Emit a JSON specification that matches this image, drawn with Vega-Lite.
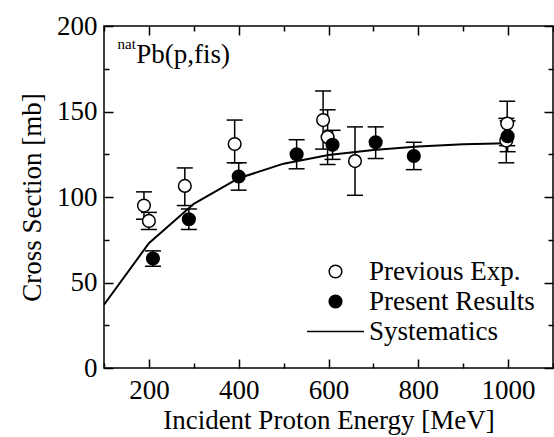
{
  "$schema": "https://vega.github.io/schema/vega-lite/v6.json",
  "autosize": {"type": "none"},
  "padding": {"left": 104, "top": 26, "right": 1, "bottom": 69},
  "width": 449,
  "height": 342,
  "config": {
    "view": {"stroke": "black", "strokeWidth": 1.5},
    "font": "Liberation Serif",
    "axis": {"labelFont": "Liberation Serif", "titleFont": "Liberation Serif", "labelColor": "black", "titleColor": "black", "titleFontWeight": "normal", "grid": false, "domain": false, "format": "d"},
    "legend": {"labelFont": "Liberation Serif"}
  },
  "datasets": {
    "pts": [
      {"series": "Previous Exp.", "energy": 189, "cs": 95, "lo": 87, "hi": 103},
      {"series": "Previous Exp.", "energy": 200, "cs": 86, "lo": 81, "hi": 91},
      {"series": "Previous Exp.", "energy": 280, "cs": 106.5, "lo": 95, "hi": 117},
      {"series": "Previous Exp.", "energy": 391, "cs": 131, "lo": 120, "hi": 145},
      {"series": "Previous Exp.", "energy": 588, "cs": 145, "lo": 128, "hi": 162},
      {"series": "Previous Exp.", "energy": 598, "cs": 135, "lo": 119, "hi": 151},
      {"series": "Previous Exp.", "energy": 659, "cs": 121, "lo": 101, "hi": 141},
      {"series": "Previous Exp.", "energy": 998, "cs": 143, "lo": 130, "hi": 156},
      {"series": "Previous Exp.", "energy": 996, "cs": 133, "lo": 120, "hi": 146},
      {"series": "Present Results", "energy": 209, "cs": 64, "lo": 59.5, "hi": 68.5},
      {"series": "Present Results", "energy": 289, "cs": 87, "lo": 81, "hi": 93},
      {"series": "Present Results", "energy": 400, "cs": 112, "lo": 104, "hi": 120},
      {"series": "Present Results", "energy": 529, "cs": 125, "lo": 116.5, "hi": 133.5},
      {"series": "Present Results", "energy": 609, "cs": 130.5, "lo": 122, "hi": 139},
      {"series": "Present Results", "energy": 705, "cs": 132, "lo": 122.5, "hi": 141},
      {"series": "Present Results", "energy": 790, "cs": 124, "lo": 116, "hi": 132},
      {"series": "Present Results", "energy": 999, "cs": 135.5, "lo": 126.5, "hi": 144.5}
    ],
    "sys": [
      {"energy": 100, "cs": 37},
      {"energy": 200, "cs": 73},
      {"energy": 300, "cs": 96},
      {"energy": 400, "cs": 111},
      {"energy": 500, "cs": 119.5},
      {"energy": 600, "cs": 124.5},
      {"energy": 700, "cs": 127.5},
      {"energy": 800, "cs": 129.5},
      {"energy": 900, "cs": 130.8},
      {"energy": 1000, "cs": 131.5}
    ],
    "nat": [{"energy": 130, "cs": 186.5, "text": "nat"}],
    "pb": [{"energy": 172, "cs": 178.4, "text": "Pb(p,fis)"}]
  },
  "resolve": {"axis": {"x": "independent", "y": "independent"}},
  "layer": [
    {
      "data": {"name": "sys"},
      "mark": {"type": "line", "color": "black", "strokeWidth": 2},
      "encoding": {
        "x": {"field": "energy", "type": "quantitative", "scale": {"domain": [100, 1100], "nice": false, "zero": false},
          "axis": {"orient": "bottom", "values": [200, 400, 600, 800, 1000], "ticks": false, "labelFontSize": 27, "labelPadding": 9, "title": "Incident Proton Energy [MeV]", "titleFontSize": 27, "titlePadding": 4}},
        "y": {"field": "cs", "type": "quantitative", "scale": {"domain": [0, 200], "nice": false},
          "axis": {"orient": "left", "values": [0, 50, 100, 150, 200], "ticks": false, "labelFontSize": 27, "labelPadding": 7, "title": "Cross Section [mb]", "titleFontSize": 27, "titlePadding": 10}}
      }
    },
    {
      "data": {"name": "pts"},
      "mark": {"type": "rule", "color": "black", "strokeWidth": 1.5},
      "encoding": {
        "x": {"field": "energy", "type": "quantitative",
          "axis": {"orient": "bottom", "values": [100, 200, 300, 400, 500, 600, 700, 800, 900, 1000, 1100], "labels": false, "title": null, "tickColor": "black", "tickWidth": 1.5,
            "tickSize": {"condition": {"test": "datum.value % 200 === 0", "value": -9}, "value": -5}}},
        "y": {"field": "lo", "type": "quantitative",
          "axis": {"orient": "left", "values": [0, 25, 50, 75, 100, 125, 150, 175, 200], "labels": false, "title": null, "tickColor": "black", "tickWidth": 1.5,
            "tickSize": {"condition": {"test": "datum.value % 50 === 0", "value": -9}, "value": -5}}},
        "y2": {"field": "hi"}
      }
    },
    {
      "data": {"name": "pts"},
      "mark": {"type": "tick", "orient": "horizontal", "color": "black", "thickness": 1.5, "size": 16, "opacity": 1},
      "encoding": {
        "x": {"field": "energy", "type": "quantitative",
          "axis": {"orient": "top", "values": [100, 200, 300, 400, 500, 600, 700, 800, 900, 1000, 1100], "labels": false, "title": null, "tickColor": "black", "tickWidth": 1.5,
            "tickSize": {"condition": {"test": "datum.value % 200 === 0", "value": -9}, "value": -5}}},
        "y": {"field": "lo", "type": "quantitative",
          "axis": {"orient": "right", "values": [0, 25, 50, 75, 100, 125, 150, 175, 200], "labels": false, "title": null, "tickColor": "black", "tickWidth": 1.5,
            "tickSize": {"condition": {"test": "datum.value % 50 === 0", "value": -9}, "value": -5}}}
      }
    },
    {
      "data": {"name": "pts"},
      "mark": {"type": "tick", "orient": "horizontal", "color": "black", "thickness": 1.5, "size": 16, "opacity": 1},
      "encoding": {
        "x": {"field": "energy", "type": "quantitative", "axis": null},
        "y": {"field": "hi", "type": "quantitative", "axis": null}
      }
    },
    {
      "data": {"name": "pts"},
      "mark": {"type": "point", "filled": true, "stroke": "black", "strokeWidth": 1.5, "size": 160, "opacity": 1},
      "encoding": {
        "x": {"field": "energy", "type": "quantitative", "axis": null},
        "y": {"field": "cs", "type": "quantitative", "axis": null},
        "shape": {"field": "series", "type": "nominal",
          "scale": {"domain": ["Previous Exp.", "Present Results", "Systematics"], "range": ["circle", "circle", "M-4.5,0L4.5,0"]},
          "legend": {"title": null, "orient": "none", "legendX": 218, "legendY": 232, "labelFontSize": 27, "labelColor": "black", "labelLimit": 0, "symbolSize": 160, "symbolOpacity": 1, "rowPadding": 2, "labelOffset": 20,
            "encode": {"symbols": {"update": {"stroke": {"value": "black"}, "strokeWidth": {"value": 1.5}}}}}},
        "fill": {"field": "series", "type": "nominal",
          "scale": {"domain": ["Previous Exp.", "Present Results", "Systematics"], "range": ["white", "black", "transparent"]},
          "legend": {"title": null, "orient": "none", "legendX": 218, "legendY": 232, "labelFontSize": 27, "labelColor": "black", "labelLimit": 0, "symbolSize": 160, "symbolOpacity": 1, "rowPadding": 2, "labelOffset": 20,
            "encode": {"symbols": {"update": {"stroke": {"value": "black"}, "strokeWidth": {"value": 1.5}}}}}}
      }
    },
    {
      "data": {"name": "nat"},
      "mark": {"type": "text", "align": "left", "baseline": "alphabetic", "fontSize": 15, "font": "Liberation Serif", "color": "black"},
      "encoding": {
        "x": {"field": "energy", "type": "quantitative", "axis": null},
        "y": {"field": "cs", "type": "quantitative", "axis": null},
        "text": {"field": "text"}
      }
    },
    {
      "data": {"name": "pb"},
      "mark": {"type": "text", "align": "left", "baseline": "alphabetic", "fontSize": 27, "font": "Liberation Serif", "color": "black"},
      "encoding": {
        "x": {"field": "energy", "type": "quantitative", "axis": null},
        "y": {"field": "cs", "type": "quantitative", "axis": null},
        "text": {"field": "text"}
      }
    }
  ]
}
